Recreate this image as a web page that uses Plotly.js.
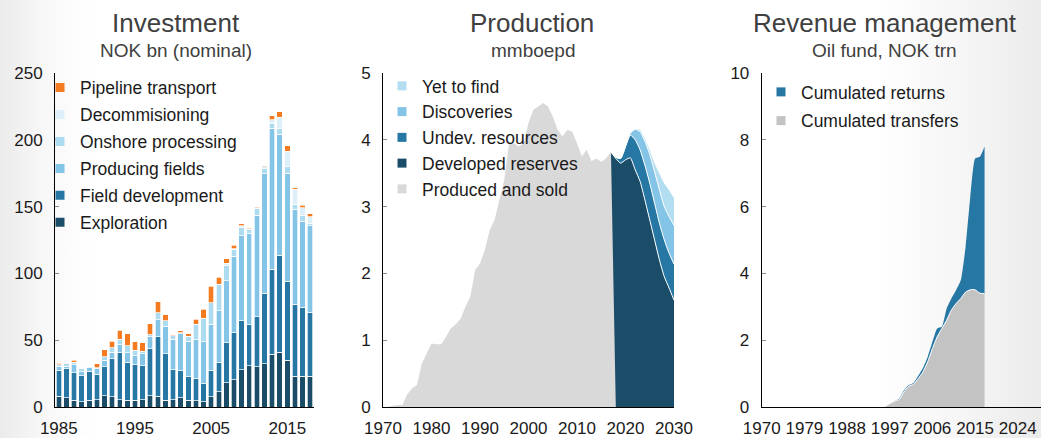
<!DOCTYPE html>
<html><head><meta charset="utf-8">
<script src="https://cdn.plot.ly/plotly-3.0.1.min.js"></script>
<style>
html,body{margin:0;padding:0;}
body{width:1041px;height:438px;overflow:hidden;background:linear-gradient(to right,#ebebeb 0%,#f7f7f7 4%,#ffffff 9%,#ffffff 84%,#f5f5f5 93%,#ebebeb 100%);}
#chart{width:1041px;height:438px;}
</style></head><body><div id="chart"></div>
<script>
// ---------- Investment (NOK bn, nominal) ----------
const invYears = [1985,1986,1987,1988,1989,1990,1991,1992,1993,1994,1995,1996,1997,1998,1999,2000,2001,2002,2003,2004,2005,2006,2007,2008,2009,2010,2011,2012,2013,2014,2015,2016,2017,2018];
const exploration = [8,7,5,4,5,5.5,8.5,7.5,5.5,5,5,5.5,8.5,8,5,5.5,7,5,4.5,4,7.5,11.5,18,20.5,28,31,30,32.5,39.5,41,35,23,23,23];
const fieldDevelopment = [19,21.5,20.5,19.5,21.7,19,21.5,28.5,35,28.5,26.5,25.2,35.2,44.5,35,22.5,20,17.5,16.5,13.5,19.5,21.5,30,35,36.5,30.5,37.5,52.5,63.5,72.5,59,54,51.5,47.5];
const producingFields = [3.5,2,6,3,2.5,4,5,5,6,7,7,9.2,8.7,12.7,20.5,22.7,27.7,26.7,29.5,31.5,35,39,46.5,57.5,63.5,68.5,76,89.5,105.5,90.5,81,71,64.5,65];
const onshoreProcessing = [1,1.7,2,2.5,1,1,2.5,3.5,4.2,5.5,4,1.7,1.7,5.2,4,2.5,0.7,3.7,11.5,17.5,16,20,11.5,5,6.5,2.5,5,4,4,4.5,5,3.5,4.5,2];
const decommissioning = [0,0,0,0,0,0,0,0,0,0,0,0,0,0,0,0,0,0,0,0,0,0,1.5,0.5,1,1,0.5,1.5,2.5,8.5,11.5,11.5,5.5,5];
const pipelineTransport = [1.2,0.5,1.5,0,0,2.7,5.5,4.7,6.7,8.7,6.2,6.5,8.2,8.5,4.7,1,1.7,2,3.5,6.5,12.5,5,3.5,2.5,1.5,0.5,1,0.5,3,4,4,1,2,2];
const invTicks = [1985,1995,2005,2015];

// ---------- Production (mmboepd) ----------
const prodYears = [1971,1972,1973,1974,1975,1976,1977,1978,1979,1980,1981,1982,1983,1984,1985,1986,1987,1988,1989,1990,1991,1992,1993,1994,1995,1996,1997,1998,1999,2000,2001,2002,2003,2004,2005,2006,2007,2008,2009,2010,2011,2012,2013,2014,2015,2016,2017,2018];
const producedSold = [0.0,0.02,0.03,0.03,0.19,0.28,0.33,0.65,0.8,0.95,0.94,0.94,1.05,1.18,1.24,1.32,1.5,1.65,2.05,2.15,2.35,2.65,2.8,3.1,3.4,3.95,3.95,3.9,3.95,4.25,4.45,4.5,4.55,4.5,4.35,4.15,4.05,4.15,4.12,3.95,3.75,3.85,3.68,3.72,3.67,3.72,3.82,0];
const fcYears = [2017,2018,2019,2020,2021,2022,2023,2024,2025,2026,2027,2028,2029,2030];
const developedReserves = [3.82,3.72,3.65,3.70,3.73,3.55,3.38,3.1,2.8,2.5,2.2,1.95,1.78,1.6];
const undevResources = [0,0.02,0.07,0.2,0.34,0.45,0.47,0.52,0.55,0.55,0.55,0.55,0.52,0.54];
const discoveries = [0,0,0,0,0.03,0.16,0.27,0.36,0.43,0.47,0.5,0.5,0.55,0.58];
const yetToFind = [0,0,0,0,0,0,0.03,0.04,0.07,0.13,0.25,0.35,0.4,0.41];

// ---------- Revenue management (Oil fund, NOK trn) ----------
const fundYears = [1996,1997,1998,1999,2000,2001,2002,2003,2004,2005,2006,2007,2008,2009,2010,2011,2012,2013,2014,2015,2016,2017];
const cumTransfers = [0.02,0.1,0.17,0.22,0.45,0.62,0.68,0.85,1.05,1.35,1.75,2.1,2.35,2.6,2.9,3.1,3.25,3.44,3.51,3.51,3.41,3.39];
const cumReturns = [0,0,0.01,0.03,0.05,0.03,0.04,0.08,0.12,0.15,0.2,0.25,0.05,0.35,0.35,0.4,0.55,1.36,2.8,3.93,4.08,4.41];
const fundTicks = [1970,1979,1988,1997,2006,2015,2024];

const C = {
  navy:'#1b4d69', mid:'#2777a5', sky:'#84c4e6', pale:'#addbf0', whitish:'#ddeff8', orange:'#f47b20',
  gray:'#d9d9d9', gray2:'#c3c3c3', ytf:'#b3ddf1'
};
const FONT = 'Liberation Sans, Arial, sans-serif';
const TITLEFONT = 'Liberation Sans, Arial, sans-serif';

const traces = [];
function bar(y, color, name){
  traces.push({type:'bar', x:invYears, y:y, name:name, marker:{color:color, line:{color:'#ffffff', width:0.7}},
    xaxis:'x', yaxis:'y', showlegend:false, hoverinfo:'x+y+name'});
}
bar(exploration, C.navy, 'Exploration');
bar(fieldDevelopment, C.mid, 'Field development');
bar(producingFields, C.sky, 'Producing fields');
bar(onshoreProcessing, C.pale, 'Onshore processing');
bar(decommissioning, C.whitish, 'Decommisioning');
bar(pipelineTransport, C.orange, 'Pipeline transport');

function stack(x, y, color, name, group, ax, lineW){
  traces.push({type:'scatter', mode:'lines', x:x, y:y, name:name, stackgroup:group,
    line:{color:'#ffffff', width:lineW, shape:'spline', smoothing:0.5}, fillcolor:color,
    xaxis:'x'+ax, yaxis:'y'+ax, showlegend:false});
}
stack(fcYears, developedReserves, C.navy, 'Developed reserves', 'p', '2', 1);
stack(fcYears, undevResources, C.mid, 'Undev. resources', 'p', '2', 1);
stack(fcYears, discoveries, C.sky, 'Discoveries', 'p', '2', 1);
stack(fcYears, yetToFind, C.ytf, 'Yet to find', 'p', '2', 0.5);
traces.push({type:'scatter', mode:'none', x:prodYears, y:producedSold, name:'Produced and sold', fill:'tozeroy',
  fillcolor:C.gray, xaxis:'x2', yaxis:'y2', showlegend:false});

stack(fundYears, cumTransfers, C.gray2, 'Cumulated transfers', 'r', '3', 1);
stack(fundYears, cumReturns, C.mid, 'Cumulated returns', 'r', '3', 0);

// legend entries (square markers)
function leg(name, color, legend, ax, rank){
  traces.push({type:'scatter', mode:'markers', x:[null], y:[null], name:name, legend:legend, legendgroup:name, legendrank:rank,
    marker:{symbol:'square', size:9, color:color}, xaxis:'x'+ax, yaxis:'y'+ax, hoverinfo:'skip'});
}
leg('Pipeline transport', C.orange, 'legend', '', 1);
leg('Decommisioning', C.whitish, 'legend', '', 2);
leg('Onshore processing', C.pale, 'legend', '', 3);
leg('Producing fields', C.sky, 'legend', '', 4);
leg('Field development', C.mid, 'legend', '', 5);
leg('Exploration', C.navy, 'legend', '', 6);
leg('Yet to find', C.ytf, 'legend2', '2', 1);
leg('Discoveries', C.sky, 'legend2', '2', 2);
leg('Undev. resources', C.mid, 'legend2', '2', 3);
leg('Developed reserves', C.navy, 'legend2', '2', 4);
leg('Produced and sold', C.gray, 'legend2', '2', 5);
leg('Cumulated returns', C.mid, 'legend3', '3', 1);
leg('Cumulated transfers', C.gray2, 'legend3', '3', 2);

const W = 1041;
const tickfont = {family:FONT, size:17, color:'#1a1a1a'};
function xax(domain, range, extra){
  return Object.assign({domain:domain, range:range, showline:true, linecolor:'#000', linewidth:1, ticks:'', showgrid:false,
    zeroline:false, tickfont:tickfont, fixedrange:true}, extra);
}
function yax(range, dtick, anchor){
  return {range:range, dtick:dtick, anchor:anchor, showline:true, linecolor:'#000', linewidth:1, ticks:'inside', ticklen:4,
    tickcolor:'#8c8c8c', showgrid:false, zeroline:false, tickfont:tickfont, ticklabelstandoff:8, fixedrange:true};
}
const legBase = {bgcolor:'rgba(0,0,0,0)', font:{family:FONT, size:17.5, color:'#1a1a1a'}, traceorder:'grouped',
  xanchor:'left', yanchor:'top', itemclick:false, itemdoubleclick:false};

function ann(text, xpx, ypx, size, family){
  return {text:text, xref:'paper', yref:'paper', x:xpx/W, y:(406.7-ypx)/333.4, xanchor:'center', yanchor:'middle',
    showarrow:false, font:{family:family, size:size, color:'#404040'}};
}

const layout = {
  width:1041, height:438,
  margin:{l:0, r:0, t:73.3, b:31.3, pad:0},
  paper_bgcolor:'rgba(0,0,0,0)', plot_bgcolor:'rgba(0,0,0,0)',
  barmode:'stack', bargap:0.28,
  showlegend:true,
  xaxis: xax([55/W, 314/W], [1984.5, 2018.5], {anchor:'y', tickvals:invTicks, ticklabelstandoff:6}),
  yaxis: yax([0,250], 50, 'x'),
  xaxis2: xax([383/W, 674/W], [1970, 2030], {anchor:'y2', dtick:10, tick0:1970, ticklabelstandoff:6}),
  yaxis2: yax([0,5], 1, 'x2'),
  xaxis3: xax([761.7/W, 1], [1970, 2028.9], {anchor:'y3', tickvals:fundTicks, ticklabelstandoff:6}),
  yaxis3: yax([0,10], 2, 'x3'),
  legend: Object.assign({}, legBase, {x:40/W, y:1.01, tracegroupgap:1.2}),
  legend2: Object.assign({}, legBase, {x:382/W, y:1.015, tracegroupgap:0}),
  legend3: Object.assign({}, legBase, {x:761/W, y:0.997, tracegroupgap:3}),
  annotations:[
    ann('Investment', 176, 23, 26, TITLEFONT),
    ann('NOK bn (nominal)', 176, 51, 19, TITLEFONT),
    ann('Production', 532, 23, 26, TITLEFONT),
    ann('mmboepd', 533, 51, 19, TITLEFONT),
    ann('Revenue management', 885, 23, 26, TITLEFONT),
    ann('Oil fund, NOK trn', 884, 51, 19, TITLEFONT)
  ]
};
Plotly.newPlot('chart', traces, layout, {displayModeBar:false, staticPlot:true});
</script>
</body></html>
